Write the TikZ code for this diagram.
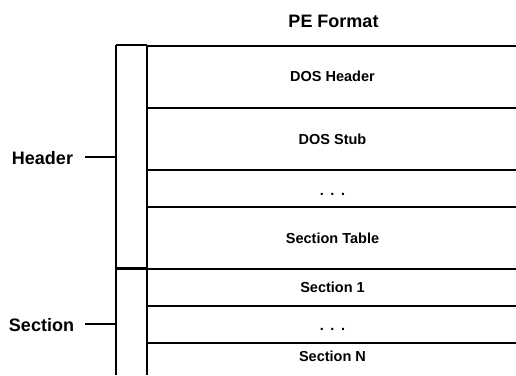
\documentclass[tikz,border=0pt]{standalone}
\usepackage{fontspec}
\setmainfont{Liberation Sans}
\begin{document}
\begin{tikzpicture}[x=1pt,y=-1pt,
  celltext/.style={font=\fontsize{14.5}{17}\selectfont\bfseries, anchor=base, inner sep=0pt},
  sidetext/.style={font=\fontsize{18}{21}\selectfont\bfseries, anchor=base, inner sep=0pt},
  rowrule/.style={line width=1.3pt},
  bracketbar/.style={line width=2.3pt},
  tickline/.style={line width=2pt}]
\useasboundingbox (0,0) rectangle (516,375);

% title
\node[sidetext] (title) at (333.5,27.5) {PE Format};

% row separators of the layout column
\foreach \name/\y in {r0/46,r1/108,r2/170,r3/207,r4/269,r5/306,r6/343}{
  \coordinate (\name L) at (147,\y);
  \coordinate (\name R) at (516,\y);
  \draw[rowrule] (\name L) -- (\name R);
}

% inner edge of the bracket column
\coordinate (innertop) at (147,45);
\coordinate (innerbot) at (147,375);
\draw[line width=1.2pt] (innertop) -- (innerbot);

% bracket: outer bar and group dividers
\coordinate (outertop) at (116,45);
\coordinate (outerbot) at (116,375);
\coordinate (groupdiv) at (116,268.5);
\coordinate (groupdivR) at (147,268.5);
\draw[bracketbar] (outertop) -- (outerbot);
\draw[bracketbar] (outertop) -- (innertop);
\draw[bracketbar] (groupdiv) -- (groupdivR);

% cell labels
\node[celltext] (doshdr) at (332.5,81.5) {DOS Header};
\node[celltext] (dosstub) at (332.5,144) {DOS Stub};
\node[celltext] (gap1) at (332.5,195) {.\hspace{0.45em}.\hspace{0.45em}.};
\node[celltext] (sectab) at (332.5,243) {Section Table};
\node[celltext] (sec1) at (332.5,292.5) {Section 1};
\node[celltext] (gap2) at (332.5,330) {.\hspace{0.45em}.\hspace{0.45em}.};
\node[celltext] (secn) at (332.5,361) {Section N};

% group labels with their ticks
\node[sidetext] (hdrlabel) at (42.5,164.5) {Header};
\node[sidetext] (seclabel) at (41.5,331.5) {Section};
\coordinate (hdrtick) at (85,157);
\coordinate (hdrbar) at (116,157);
\coordinate (sectick) at (85,324);
\coordinate (secbar) at (116,324);
\draw[tickline] (hdrtick) -- (hdrbar);
\draw[tickline] (sectick) -- (secbar);
\end{tikzpicture}
\end{document}
